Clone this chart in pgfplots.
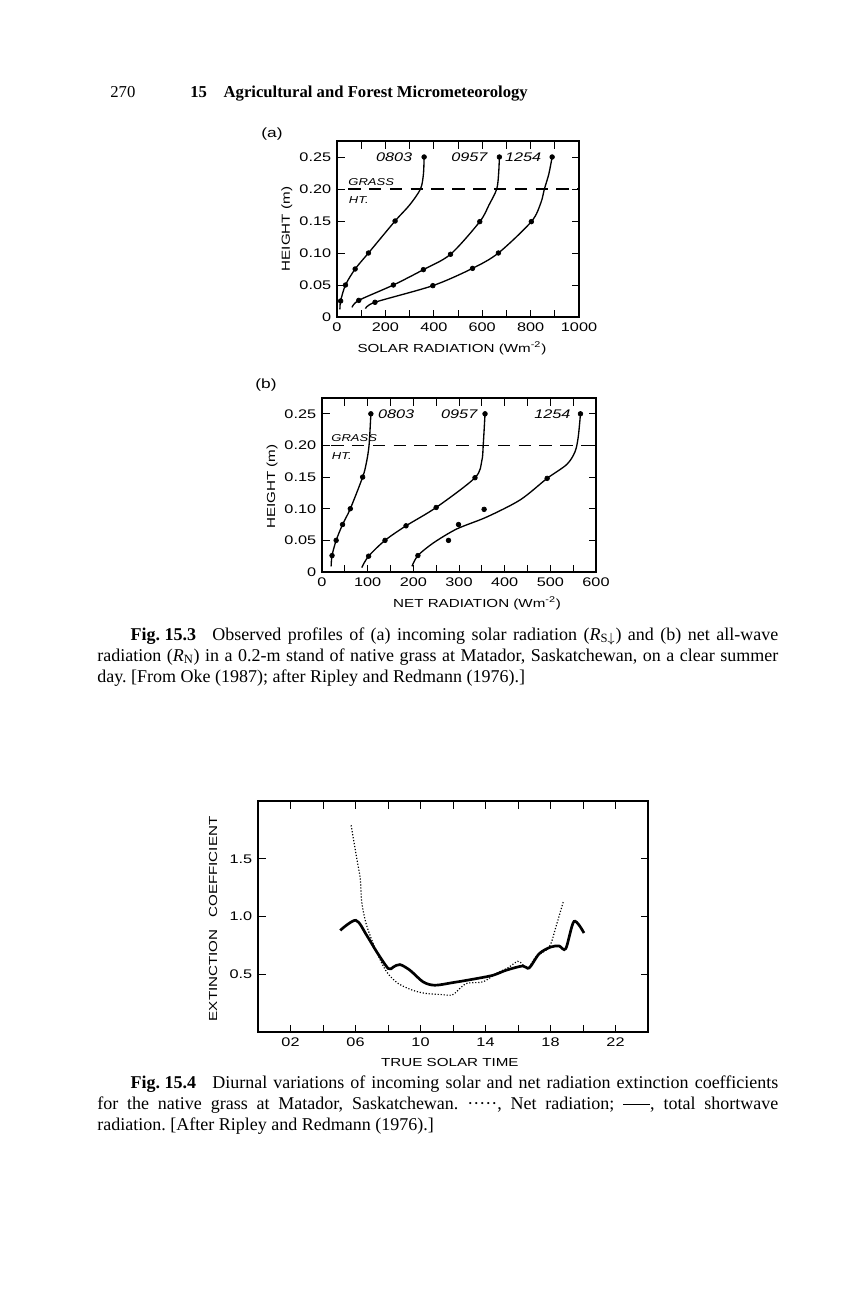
\documentclass[border=0pt]{standalone}
\usepackage{fontspec}
\setmainfont{Liberation Serif}
\newfontfamily\lett[FakeStretch=1.3]{Liberation Sans}
\usepackage{pgfplots}
\pgfplotsset{compat=1.18}
\frenchspacing

\newcommand{\tickfont}{\lett\fontsize{7.5}{9}\selectfont}
\newcommand{\labfont}{\lett\fontsize{7}{8.4}\selectfont}

\pgfplotsset{
  scan/.style={
    scale only axis,
    axis line style={line width=0.8pt},
    tick align=inside,
    major tick length=4.5pt,
    minor tick length=4.5pt,
    tick style={line width=0.6pt, black},
    ticklabel style={font=\tickfont},
    /pgf/number format/assume math mode=true,
    /pgf/number format/1000 sep={},
    every axis x label/.style={anchor=center, font=\labfont},
    every axis y label/.style={anchor=center, rotate=90, font=\labfont},
    clip=false,
  },
  prof/.style={line width=0.8pt, smooth, no markers},
  dots/.style={only marks, mark=*, mark size=1.4pt},
}

\begin{document}
\begin{tikzpicture}
\fill[white] (0,0) rectangle (864*0.6pt,-1296*0.6pt);
\useasboundingbox (0,0) rectangle (864*0.6pt,-1296*0.6pt);

% running head
\node[anchor=base west, inner sep=0pt, font=\fontsize{10}{12}\selectfont] at (110*0.6pt,-98*0.6pt) {270};
\node[anchor=base west, inner sep=0pt, font=\fontsize{10}{12}\selectfont\bfseries] at (190*0.6pt,-98*0.6pt) {15\quad Agricultural and Forest Micrometeorology};

% (a) solar radiation profiles
\node[font=\lett\fontsize{8}{9}\selectfont] at (272*0.6pt,-134*0.6pt) {(a)};
\begin{axis}[scan,
  at={(337*0.6pt,-317*0.6pt)}, anchor=south west,
  width=242*0.6pt, height=176*0.6pt,
  xmin=0, xmax=1000, ymin=0, ymax=0.275,
  xtick={0,200,...,1000}, minor x tick num=1,
  ytick={0,0.05,0.10,0.15,0.20,0.25},
  yticklabels={0,0.05,0.10,0.15,0.20,0.25},
  xlabel={SOLAR RADIATION (Wm\textsuperscript{-2})},
  ylabel={HEIGHT (m)},
  xlabel style={at={(axis description cs:0.475,-0.176)}},
  ylabel style={at={(axis description cs:-0.207,0.5)}},
]
\addplot[dash pattern=on 7.5pt off 5pt, line width=0.7pt] coordinates {(46,0.2) (1000,0.2)};
\addplot[prof] coordinates {(12,0.012) (15,0.025) (35,0.05) (75,0.075) (130,0.10) (240,0.15) (300,0.175) (345,0.20) (357,0.223) (360,0.25)};
\addplot[prof] coordinates {(62,0.015) (90,0.026) (233,0.05) (357,0.074) (469,0.098) (590,0.149) (628,0.175) (660,0.20) (668,0.225) (671,0.25)};
\addplot[prof] coordinates {(118,0.013) (157,0.023) (396,0.049) (560,0.076) (667,0.10) (803,0.149) (842,0.178) (857,0.20) (875,0.223) (889,0.25)};
\addplot[dots] coordinates {(360,0.25) (240,0.15) (130,0.10) (75,0.075) (35,0.05) (15,0.025)};
\addplot[dots] coordinates {(671,0.25) (590,0.149) (469,0.098) (357,0.074) (233,0.05) (90,0.026)};
\addplot[dots] coordinates {(889,0.25) (803,0.149) (667,0.10) (560,0.076) (396,0.049) (157,0.023)};
\node[anchor=east, font=\tickfont\itshape] at (axis cs:335,0.25) {0803};
\node[anchor=east, font=\tickfont\itshape] at (axis cs:646,0.25) {0957};
\node[anchor=east, font=\tickfont\itshape] at (axis cs:868,0.25) {1254};
\node[anchor=west, inner sep=0pt, font=\lett\fontsize{6}{7}\selectfont\itshape] at (axis cs:46,0.211) {GRASS};
\node[anchor=west, inner sep=0pt, font=\lett\fontsize{6}{7}\selectfont\itshape] at (axis cs:48,0.182) {HT.};
\end{axis}

% (b) net radiation profiles
\node[font=\lett\fontsize{8}{9}\selectfont] at (266*0.6pt,-385*0.6pt) {(b)};
\begin{axis}[scan,
  at={(322*0.6pt,-572*0.6pt)}, anchor=south west,
  width=274*0.6pt, height=174*0.6pt,
  xmin=0, xmax=600, ymin=0, ymax=0.275,
  xtick={0,100,...,600}, minor x tick num=1,
  ytick={0,0.05,0.10,0.15,0.20,0.25},
  yticklabels={0,0.05,0.10,0.15,0.20,0.25},
  xlabel={NET RADIATION (Wm\textsuperscript{-2})},
  ylabel={HEIGHT (m)},
  xlabel style={at={(axis description cs:0.566,-0.178)}},
  ylabel style={at={(axis description cs:-0.182,0.49)}},
]
\addplot[dash pattern=on 7.5pt off 5pt, line width=0.7pt] coordinates {(20,0.2) (600,0.2)};
\addplot[prof] coordinates {(20,0.009) (22,0.026) (31,0.05) (45,0.075) (62,0.10) (89,0.15) (97,0.172) (103,0.20) (107,0.25)};
\addplot[prof] coordinates {(87,0.007) (102,0.025) (138,0.05) (184,0.073) (250,0.102) (335,0.149) (350,0.176) (353,0.20) (357,0.25)};
\addplot[prof] coordinates {(197,0.009) (210,0.026) (244,0.046) (295,0.068) (361,0.087) (434,0.114) (493,0.148) (536,0.17) (554,0.19) (561,0.213) (566,0.25)};
\addplot[dots] coordinates {(107,0.25) (89,0.15) (62,0.10) (45,0.075) (31,0.05) (22,0.026)};
\addplot[dots] coordinates {(357,0.25) (335,0.149) (250,0.102) (184,0.073) (138,0.05) (102,0.025)};
\addplot[dots] coordinates {(566,0.25) (493,0.148) (355,0.099) (299,0.075) (277,0.05) (210,0.026)};
\node[anchor=west, font=\tickfont\itshape] at (axis cs:110,0.25) {0803};
\node[anchor=east, font=\tickfont\itshape] at (axis cs:353,0.25) {0957};
\node[anchor=east, font=\tickfont\itshape] at (axis cs:557,0.25) {1254};
\node[anchor=west, inner sep=0pt, font=\lett\fontsize{6}{7}\selectfont\itshape] at (axis cs:20,0.211) {GRASS};
\node[anchor=west, inner sep=0pt, font=\lett\fontsize{6}{7}\selectfont\itshape] at (axis cs:21,0.184) {HT.};
\end{axis}

% caption Fig. 15.3
\node[anchor=base west, inner sep=0pt] at (97*0.6pt,-640*0.6pt) {\parbox[t]{408.6pt}{\fontsize{10.8}{12.6}\selectfont
\hspace*{20pt}\mbox{\textbf{Fig. 15.3}}\hspace{0.9em}Observed profiles of (a) incoming solar radiation (\textit{R}\textsubscript{S$\downarrow$}) and (b) net all-wave\linebreak
radiation (\textit{R}\textsubscript{N}) in a 0.2-m stand of native grass at Matador, Saskatchewan, on a clear summer\linebreak
day. [From Oke (1987); after Ripley and Redmann (1976).]}};

% Fig. 15.4 extinction coefficients
\begin{axis}[scan,
  at={(258*0.6pt,-1032*0.6pt)}, anchor=south west,
  width=390*0.6pt, height=231*0.6pt,
  xmin=0, xmax=24, ymin=0, ymax=2,
  xtick={0,2,...,24},
  xticklabels={,02,,06,,10,,14,,18,,22,},
  ytick={0.5,1.0,1.5},
  yticklabels={0.5,1.0,1.5},
  xlabel={TRUE SOLAR TIME},
  ylabel={EXTINCTION\quad COEFFICIENT},
  xlabel style={at={(axis description cs:0.492,-0.134)}},
  ylabel style={at={(axis description cs:-0.115,0.49)}},
]
\addplot[line width=0.7pt, dash pattern=on 0.7pt off 1.1pt, smooth, no markers] coordinates {
(5.73,1.79) (6.08,1.5) (6.29,1.33) (6.39,1.12) (6.69,0.92) (7.31,0.69) (7.92,0.52) (8.63,0.42) (9.55,0.36) (10.37,0.333) (11.2,0.325) (11.9,0.318) (12.2,0.347) (12.82,0.42) (13.84,0.434) (14.65,0.506) (15.37,0.555) (15.98,0.612) (16.29,0.584) (16.6,0.549) (17.1,0.65) (17.92,0.736) (18.33,0.909) (18.78,1.125)};
\addplot[line width=1.6pt, smooth, no markers] coordinates {
(5.06,0.88) (6.02,0.967) (6.69,0.837) (7.31,0.693) (8.02,0.549) (8.33,0.563) (8.73,0.584) (9.35,0.535) (10.16,0.434) (10.88,0.405) (12.0,0.428) (13.22,0.457) (14.45,0.491) (15.27,0.535) (16.29,0.572) (16.69,0.555) (17.31,0.679) (18.02,0.736) (18.53,0.745) (18.94,0.722) (19.45,0.958) (20.06,0.857)};
\end{axis}

% caption Fig. 15.4
\node[anchor=base west, inner sep=0pt] at (97*0.6pt,-1088*0.6pt) {\parbox[t]{408.6pt}{\fontsize{10.8}{12.6}\selectfont
\hspace*{20pt}\mbox{\textbf{Fig. 15.4}}\hspace{0.9em}Diurnal variations of incoming solar and net radiation extinction coefficients\linebreak
for the native grass at Matador, Saskatchewan. \mbox{\char"B7\char"B7\char"B7\char"B7\char"B7}, Net radiation; \rule[0.5ex]{1.5em}{0.5pt}, total shortwave\linebreak
radiation. [After Ripley and Redmann (1976).]}};
\end{tikzpicture}
\end{document}
